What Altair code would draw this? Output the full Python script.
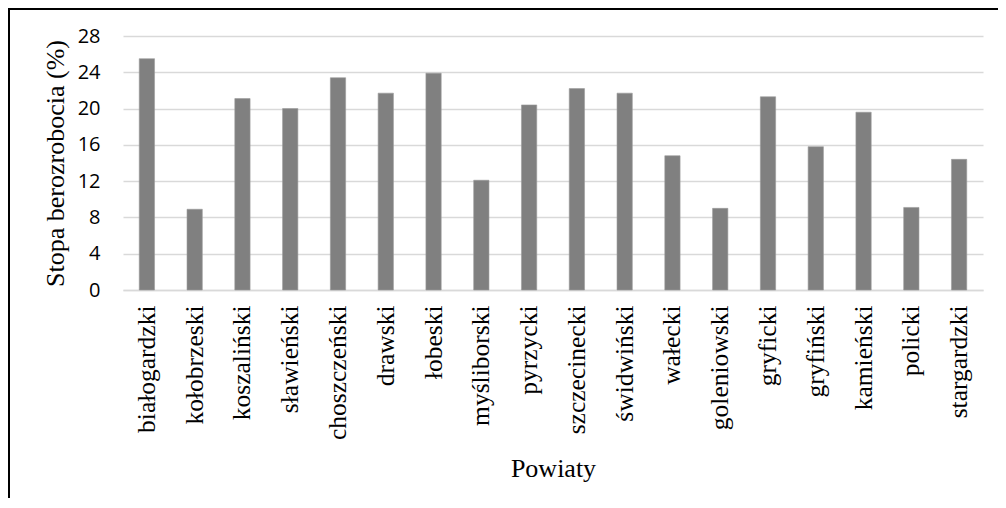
import altair as alt
import pandas as pd

powiaty = ["białogardzki", "kołobrzeski", "koszaliński", "sławieński", "choszczeński",
           "drawski", "łobeski", "myśliborski", "pyrzycki", "szczecinecki", "świdwiński",
           "wałecki", "goleniowski", "gryficki", "gryfiński", "kamieński", "policki",
           "stargardzki"]
stopa = [25.5, 8.9, 21.1, 20.0, 23.4, 21.7, 23.9, 12.1, 20.4, 22.2, 21.7,
         14.8, 9.0, 21.3, 15.8, 19.6, 9.1, 14.4]
y_ticks = [0, 4, 8, 12, 16, 20, 24, 28]

df = pd.DataFrame({"Powiat": powiaty, "Stopa": stopa})

W, H = 860, 254

bars = alt.Chart(df).mark_bar(color="#808080", stroke="#9a9a9a", strokeWidth=0.6).encode(
    x=alt.X("Powiat:N", sort=powiaty,
            scale=alt.Scale(paddingInner=0.68, paddingOuter=0.34),
            axis=alt.Axis(title="Powiaty", labelAngle=-90, labelFont="Liberation Serif",
                          labelFontSize=25.5, labelColor="#000", labelPadding=15,
                          ticks=False, domainColor="#d9d9d9", domainWidth=1.5,
                          titleFont="Liberation Serif", titleFontSize=26,
                          titleFontWeight="normal", titleColor="#000", titlePadding=16,
                          grid=False)),
    y=alt.Y("Stopa:Q", scale=alt.Scale(domain=[0, 28], nice=False),
            axis=alt.Axis(title="Stopa berozrobocia (%)", values=y_ticks, ticks=False,
                          domain=False, gridColor="#d9d9d9", gridWidth=1.5,
                          labelFont="Open Sans", labelFontSize=20, labelColor="#000",
                          labelPadding=23, titleFont="Liberation Serif", titleFontSize=26,
                          titleFontWeight="normal", titleColor="#000", titlePadding=9)),
)

frame = alt.Chart(pd.DataFrame({"f": [0]})).mark_rect(
    fill="transparent", stroke="#000", strokeWidth=2).encode(
    x=alt.value(-114), x2=alt.value(1200), y=alt.value(-27), y2=alt.value(900))

chart = alt.layer(bars, frame).properties(
    width=W, height=H,
    autosize=alt.AutoSizeParams(type="none"),
    padding={"left": 115, "top": 28, "right": 15, "bottom": 208},
).configure_view(strokeWidth=0)

chart.save("out.html", embed_options={"renderer": "svg", "actions": False})
